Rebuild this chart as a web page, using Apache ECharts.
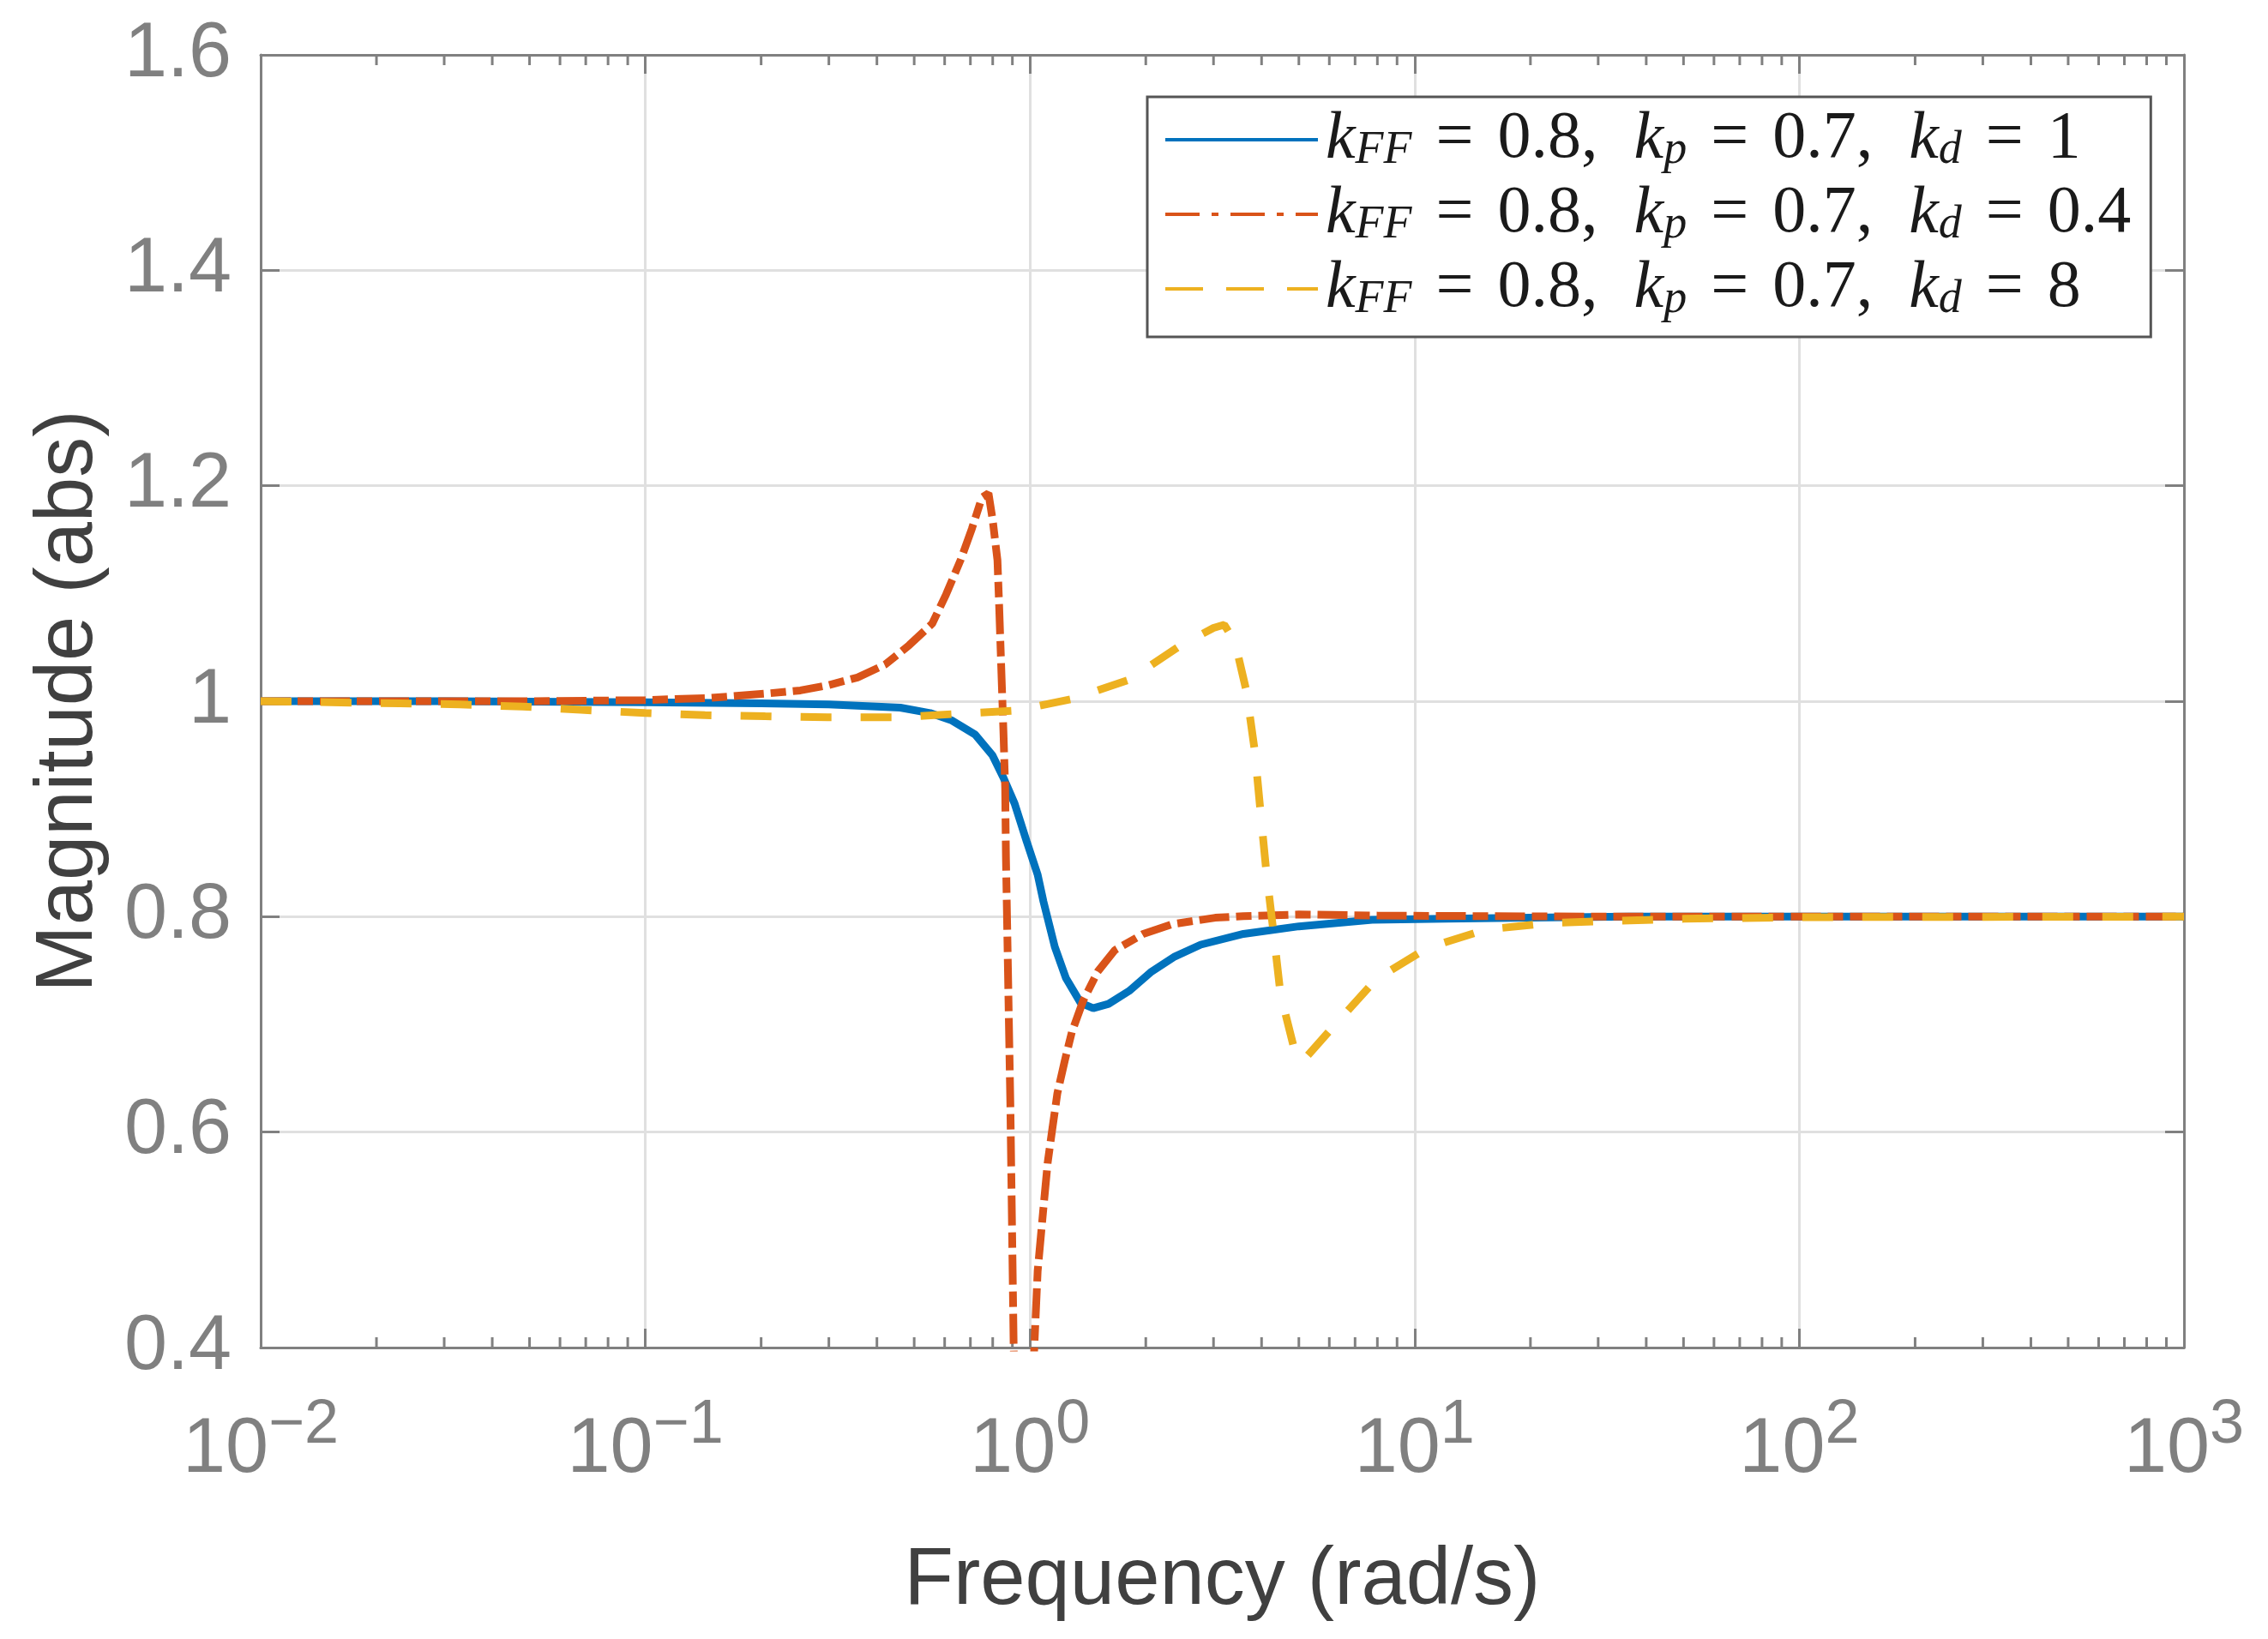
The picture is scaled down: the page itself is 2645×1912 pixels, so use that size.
<!DOCTYPE html>
<html lang="en">
<head>
<meta charset="UTF-8">
<title>Magnitude (abs) vs Frequency</title>
<script src="https://cdn.jsdelivr.net/npm/echarts@6.0.0/dist/echarts.min.js"></script>
<style>
  html, body { margin: 0; padding: 0; background: #fff; }
  #main { width: 2645px; height: 1912px; }
</style>
</head>
<body>
<div id="main"></div>
<script>
// values (frequency in rad/s, magnitude in abs)
var freqKd1 = [0.01, 0.03, 0.1, 0.2, 0.3, 0.46, 0.55, 0.627, 0.72, 0.798, 0.853, 0.912, 0.98, 1.047, 1.084, 1.16, 1.24, 1.354, 1.46, 1.6, 1.81, 2.07, 2.38, 2.78, 3.59, 5, 7.75, 12, 20, 36, 100, 1000];
var magKd1  = [1.0, 1.0, 0.999, 0.998, 0.997, 0.994, 0.989, 0.982, 0.969, 0.95, 0.929, 0.905, 0.87, 0.839, 0.814, 0.772, 0.743, 0.72, 0.715, 0.719, 0.731, 0.749, 0.763, 0.774, 0.784, 0.791, 0.797, 0.798, 0.799, 0.8, 0.8, 0.8];

var freqKd04 = [0.01, 0.05, 0.1, 0.147, 0.205, 0.253, 0.3, 0.356, 0.42, 0.485, 0.557, 0.605, 0.66, 0.706, 0.75, 0.78, 0.8, 0.823, 0.831, 0.844, 0.853, 0.862, 0.866, 0.889, 0.907, 0.955, 1.026, 1.047, 1.084, 1.112, 1.141, 1.178, 1.231, 1.285, 1.375, 1.5, 1.663, 1.97, 2.34, 3.03, 3.59, 5, 8, 15, 30, 100, 1000];
var magKd04  = [1.0, 1.0, 1.001, 1.003, 1.007, 1.01, 1.015, 1.022, 1.034, 1.052, 1.072, 1.099, 1.131, 1.16, 1.189, 1.193, 1.168, 1.131, 1.091, 1.02, 0.972, 0.919, 0.855, 0.627, 0.4, 0.1, 0.4, 0.471, 0.53, 0.572, 0.601, 0.636, 0.666, 0.693, 0.722, 0.749, 0.769, 0.784, 0.793, 0.799, 0.8005, 0.802, 0.801, 0.8005, 0.8, 0.8, 0.8];

var freqKd8 = [0.01, 0.023, 0.033, 0.048, 0.068, 0.1, 0.143, 0.205, 0.298, 0.45, 0.627, 0.898, 1.0, 1.286, 1.814, 2.466, 3.0, 3.2, 3.41, 3.65, 3.84, 3.98, 4.12, 4.3, 4.48, 4.88, 5.09, 6.22, 7.95, 10.8, 15.3, 22.2, 32.1, 50, 100, 1000];
var magKd8  = [1.0, 0.998, 0.997, 0.995, 0.992, 0.989, 0.987, 0.986, 0.985, 0.985, 0.988, 0.991, 0.994, 1.002, 1.02, 1.052, 1.068, 1.071, 1.055, 1.01, 0.954, 0.895, 0.84, 0.784, 0.728, 0.675, 0.665, 0.7, 0.742, 0.771, 0.788, 0.794, 0.796, 0.798, 0.7995, 0.8];

var seriesNames = ['kd=1', 'kd=0.4', 'kd=8'];
var kdLabels = ['1', '0.4', '8'];
var seriesColors = ['#0072BD', '#D95319', '#EDB120'];

var xDecades = [0.01, 0.1, 1, 10, 100, 1000];
var yTicks = [0.4, 0.6, 0.8, 1, 1.2, 1.4, 1.6];

var sansFont = 'Liberation Sans';
var serifFont = 'Liberation Serif';
var axisGray = '#808080';
var textBlack = '#1a1a1a';

function pairs(xs, ys) {
    return xs.map(function (x, i) { return [x, ys[i]]; });
}

// minor ticks 2..9 inside each decade
var minorTicks = [];
for (var d = 0; d < xDecades.length - 1; d++) {
    for (var m = 2; m <= 9; m++) {
        minorTicks.push([xDecades[d] * m, yTicks[0]]);
    }
}

var myChart = echarts.init(document.getElementById('main'));

var option = {
    animation: false,
    backgroundColor: '#fff',
    grid: { left: 304, right: 98, top: 64, bottom: 340 },
    legend: {
        orient: 'vertical',
        left: 1338,
        top: 113,
        padding: [11, 23, 16, 19],
        itemGap: 8,
        itemWidth: 178,
        itemHeight: 20,
        selectedMode: false,
        backgroundColor: '#fff',
        borderColor: '#555555',
        borderWidth: 3,
        itemStyle: { opacity: 0, borderWidth: 0 },
        data: [
            { name: seriesNames[0], lineStyle: { width: 4, type: 'solid' } },
            { name: seriesNames[1], lineStyle: { width: 4, type: [40, 14, 8, 14] } },
            { name: seriesNames[2], lineStyle: { width: 4, type: [44, 27] } }
        ],
        formatter: function (name) {
            var kd = kdLabels[seriesNames.indexOf(name)];
            return '{k|k}{s|FF}{e|=}{n|0.8,}{g| }{k|k}{s|p}{e|=}{n|0.7,}{g| }{k|k}{s|d}{e|=}{n|' + kd + '}';
        },
        textStyle: {
            padding: [0, 0, 0, 4],
            rich: {
                k: { fontFamily: serifFont, fontStyle: 'italic', fontSize: 78, lineHeight: 80, color: textBlack },
                s: { fontFamily: serifFont, fontStyle: 'italic', fontSize: 54, lineHeight: 42, verticalAlign: 'bottom', color: textBlack },
                e: { fontFamily: serifFont, fontSize: 78, lineHeight: 80, padding: [0, 28, 0, 28], color: textBlack },
                n: { fontFamily: serifFont, fontSize: 78, lineHeight: 80, color: textBlack },
                g: { fontSize: 78, lineHeight: 80, width: 42 }
            }
        }
    },
    xAxis: [
        {
            type: 'log',
            logBase: 10,
            min: xDecades[0],
            max: xDecades[xDecades.length - 1],
            position: 'bottom',
            name: 'Frequency (rad/s)',
            nameLocation: 'middle',
            nameGap: 226,
            nameTextStyle: { fontFamily: sansFont, fontSize: 94, color: '#404040' },
            axisLine: { show: true, lineStyle: { color: axisGray, width: 3 } },
            axisTick: { show: true, inside: true, length: 22, lineStyle: { color: axisGray, width: 3 } },
            axisLabel: {
                margin: 55,
                formatter: function (v) {
                    var e = Math.round(Math.log10(v));
                    return '{b|10}{s|' + (e < 0 ? '\u2212' + (-e) : e) + '}';
                },
                rich: {
                    b: { fontFamily: sansFont, fontSize: 90, lineHeight: 130, color: axisGray },
                    s: { fontFamily: sansFont, fontSize: 72, lineHeight: 54, verticalAlign: 'top', color: axisGray }
                }
            },
            splitLine: { show: true, lineStyle: { color: '#e0e0e0', width: 3 } }
        },
        {
            type: 'log',
            logBase: 10,
            min: xDecades[0],
            max: xDecades[xDecades.length - 1],
            position: 'top',
            axisLine: { show: true, lineStyle: { color: axisGray, width: 3 } },
            axisTick: { show: true, inside: true, length: 22, lineStyle: { color: axisGray, width: 3 } },
            axisLabel: { show: false },
            splitLine: { show: false }
        }
    ],
    yAxis: [
        {
            type: 'value',
            min: yTicks[0],
            max: yTicks[yTicks.length - 1],
            interval: 0.2,
            position: 'left',
            name: 'Magnitude (abs)',
            nameLocation: 'middle',
            nameGap: 176,
            nameTextStyle: { fontFamily: sansFont, fontSize: 94, color: '#404040' },
            axisLine: { show: true, lineStyle: { color: axisGray, width: 3 } },
            axisTick: { show: true, inside: true, length: 22, lineStyle: { color: axisGray, width: 3 } },
            axisLabel: { fontFamily: sansFont, fontSize: 90, color: axisGray, margin: 34 },
            splitLine: { show: true, lineStyle: { color: '#e0e0e0', width: 3 } }
        },
        {
            type: 'value',
            min: yTicks[0],
            max: yTicks[yTicks.length - 1],
            interval: 0.2,
            position: 'right',
            axisLine: { show: true, lineStyle: { color: axisGray, width: 3 } },
            axisTick: { show: true, inside: true, length: 22, lineStyle: { color: axisGray, width: 3 } },
            axisLabel: { show: false },
            splitLine: { show: false }
        }
    ],
    series: [
        {
            name: seriesNames[0],
            type: 'line',
            data: pairs(freqKd1, magKd1),
            symbol: 'none',
            clip: true,
            color: seriesColors[0],
            lineStyle: { color: seriesColors[0], width: 9, type: 'solid' }
        },
        {
            name: seriesNames[1],
            type: 'line',
            data: pairs(freqKd04, magKd04),
            symbol: 'none',
            clip: true,
            color: seriesColors[1],
            lineStyle: { color: seriesColors[1], width: 9, type: [35, 8, 18, 8] }
        },
        {
            name: seriesNames[2],
            type: 'line',
            data: pairs(freqKd8, magKd8),
            symbol: 'none',
            clip: true,
            color: seriesColors[2],
            lineStyle: { color: seriesColors[2], width: 9, type: [36, 34] }
        },
        {
            // log minor ticks on the bottom and top edges
            name: 'minorTicks',
            type: 'custom',
            silent: true,
            clip: false,
            data: minorTicks,
            renderItem: function (params, api) {
                var v = api.value(0);
                var pb = api.coord([v, yTicks[0]]);
                var pt = api.coord([v, yTicks[yTicks.length - 1]]);
                var st = { stroke: axisGray, lineWidth: 3 };
                return {
                    type: 'group',
                    children: [
                        { type: 'line', shape: { x1: pb[0], y1: pb[1], x2: pb[0], y2: pb[1] - 12 }, style: st },
                        { type: 'line', shape: { x1: pt[0], y1: pt[1], x2: pt[0], y2: pt[1] + 12 }, style: st }
                    ]
                };
            }
        }
    ]
};

myChart.setOption(option);
</script>
</body>
</html>
